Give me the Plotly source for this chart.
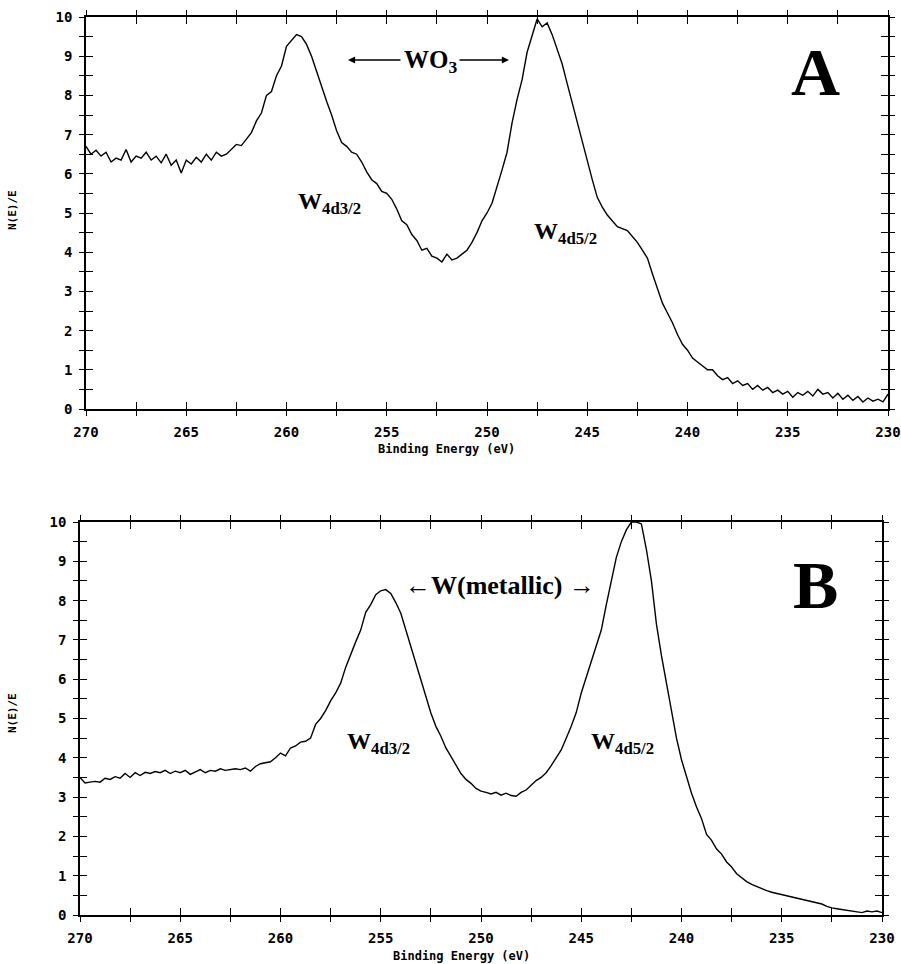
import plotly.graph_objects as go

# ---------------- data ----------------
ENERGY = [270 - 0.25 * i for i in range(161)]  # binding energy channels (eV), 270 -> 230

# Panel A : WO3
WO3_COUNTS = [
    6.70, 6.50, 6.60, 6.45, 6.55, 6.30, 6.40, 6.35, 6.62, 6.30, 6.45, 6.40, 6.55, 6.35, 6.45, 6.28, 6.50,
    6.22, 6.35, 6.02, 6.35, 6.25, 6.42, 6.30, 6.50, 6.35, 6.55, 6.45, 6.50, 6.62, 6.75, 6.72, 6.90,
    7.05, 7.35, 7.55, 8.00, 8.10, 8.50, 8.75, 9.25, 9.40, 9.55, 9.50, 9.30, 9.00, 8.60, 8.20, 7.85,
    7.50, 7.10, 6.80, 6.70, 6.55, 6.50, 6.30, 6.05, 5.85, 5.75, 5.55, 5.50, 5.35, 5.10, 4.80, 4.70,
    4.45, 4.30, 4.05, 4.10, 3.90, 3.85, 3.75, 3.95, 3.80, 3.85, 3.95, 4.05, 4.25, 4.50, 4.80, 5.00,
    5.25, 5.65, 6.10, 6.55, 7.30, 7.90, 8.40, 9.10, 9.55, 9.95, 9.75, 9.85, 9.55, 9.20, 8.80, 8.30,
    7.80, 7.30, 6.80, 6.30, 5.85, 5.40, 5.15, 4.95, 4.80, 4.65, 4.60, 4.55, 4.40, 4.25, 4.05, 3.85,
    3.45, 3.05, 2.70, 2.45, 2.20, 1.90, 1.65, 1.50, 1.30, 1.20, 1.10, 1.00, 1.00, 0.85, 0.75, 0.80,
    0.65, 0.72, 0.60, 0.65, 0.50, 0.60, 0.48, 0.55, 0.42, 0.48, 0.38, 0.45, 0.30, 0.42, 0.35, 0.45,
    0.33, 0.50, 0.38, 0.42, 0.28, 0.40, 0.25, 0.35, 0.22, 0.32, 0.18, 0.28, 0.20, 0.25, 0.18, 0.38,
]

# Panel B : W (metallic)
W_COUNTS = [
    3.50, 3.36, 3.38, 3.40, 3.38, 3.48, 3.45, 3.52, 3.48, 3.60, 3.50, 3.62, 3.55, 3.63, 3.60, 3.65, 3.62,
    3.68, 3.60, 3.66, 3.62, 3.68, 3.58, 3.65, 3.70, 3.62, 3.68, 3.66, 3.72, 3.68, 3.70, 3.72, 3.70,
    3.74, 3.66, 3.78, 3.85, 3.88, 3.90, 4.00, 4.12, 4.05, 4.25, 4.30, 4.40, 4.42, 4.50, 4.85, 5.00,
    5.20, 5.45, 5.65, 5.90, 6.30, 6.65, 6.95, 7.25, 7.70, 7.90, 8.15, 8.25, 8.28, 8.18, 7.95, 7.68,
    7.25, 6.82, 6.40, 5.98, 5.55, 5.14, 4.80, 4.55, 4.25, 4.02, 3.80, 3.60, 3.45, 3.35, 3.22, 3.15,
    3.12, 3.08, 3.12, 3.05, 3.10, 3.04, 3.02, 3.12, 3.18, 3.30, 3.42, 3.50, 3.62, 3.80, 4.00, 4.20,
    4.50, 4.80, 5.15, 5.65, 6.05, 6.45, 6.80, 7.25, 7.90, 8.50, 9.10, 9.50, 9.80, 10.00, 10.00, 9.95,
    9.30, 8.50, 7.40, 6.60, 5.90, 5.20, 4.50, 3.95, 3.50, 3.10, 2.75, 2.45, 2.05, 1.90, 1.68, 1.55,
    1.35, 1.22, 1.05, 0.95, 0.85, 0.78, 0.72, 0.66, 0.62, 0.58, 0.55, 0.52, 0.48, 0.45, 0.42, 0.40,
    0.36, 0.34, 0.30, 0.28, 0.22, 0.18, 0.16, 0.14, 0.12, 0.10, 0.08, 0.06, 0.10, 0.08, 0.10, 0.06,
]

X_TICKS = [270, 265, 260, 255, 250, 245, 240, 235, 230]
Y_TICKS = [0, 1, 2, 3, 4, 5, 6, 7, 8, 9, 10]
X_TITLE = "Binding Energy (eV)"
Y_TITLE = "N(E)/E"

# ---------------- layout helpers ----------------
W, H = 901, 964


def px_x(x):
    return x / W


def px_y(y):
    return 1 - y / H


TICKFONT = dict(family="DejaVu Sans Mono", size=14, color="black", weight="bold")
SERIF = "Liberation Serif"

fig = go.Figure()

panels = [
    dict(xr=(86, 888), yr=(17, 409), data=WO3_COUNTS, main=("", ""), over=("3", "3")),
    dict(xr=(80, 882), yr=(522, 915), data=W_COUNTS, main=("2", "2"), over=("4", "4")),
]

layout = dict(
    template="none",
    width=W, height=H,
    margin=dict(l=0, r=0, t=0, b=0, pad=0, autoexpand=False),
    paper_bgcolor="white", plot_bgcolor="white",
    showlegend=False,
)

for p in panels:
    xs, ys = p["main"]
    xo, yo = p["over"]
    xdom = [px_x(p["xr"][0]), px_x(p["xr"][1])]
    ydom = [px_y(p["yr"][1]), px_y(p["yr"][0])]

    fig.add_trace(go.Scatter(
        x=ENERGY, y=p["data"], mode="lines",
        line=dict(color="black", width=1.4),
        xaxis="x" + xs, yaxis="y" + ys, hoverinfo="skip",
    ))
    # invisible copy that carries the overlay (outside-tick) axes
    fig.add_trace(go.Scatter(
        x=ENERGY, y=p["data"], mode="lines",
        line=dict(color="rgba(0,0,0,0)", width=0),
        xaxis="x" + xo, yaxis="y" + yo, hoverinfo="skip",
    ))

    common_x = dict(range=[270, 230], tickvals=X_TICKS, showgrid=False, zeroline=False, automargin=False)
    common_y = dict(range=[0, 10], tickvals=Y_TICKS, showgrid=False, zeroline=False, automargin=False)

    layout["xaxis" + xs] = dict(
        **common_x, domain=xdom, anchor="y" + ys,
        showline=True, linecolor="black", linewidth=1.6, mirror="ticks",
        ticks="inside", ticklen=7, tickwidth=1.3, tickcolor="black",
        minor=dict(dtick=2.5, tick0=230, ticks="inside", ticklen=7, tickwidth=1.3, tickcolor="black"),
        tickfont=TICKFONT, ticklabelstandoff=9,
    )
    layout["yaxis" + ys] = dict(
        **common_y, domain=ydom, anchor="x" + xs,
        showline=True, linecolor="black", linewidth=1.6, mirror="ticks",
        ticks="inside", ticklen=7, tickwidth=1.3, tickcolor="black",
        minor=dict(dtick=0.5, tick0=0, ticks="inside", ticklen=7, tickwidth=1.3, tickcolor="black"),
        tickfont=TICKFONT, ticklabelstandoff=9,
    )
    layout["xaxis" + xo] = dict(
        **common_x, overlaying="x" + xs, anchor="y" + yo,
        showline=False, mirror="ticks", showticklabels=False,
        ticks="outside", ticklen=6, tickwidth=1.3, tickcolor="black",
        minor=dict(dtick=2.5, tick0=230, ticks="outside", ticklen=6, tickwidth=1.3, tickcolor="black"),
    )
    layout["yaxis" + yo] = dict(
        **common_y, overlaying="y" + ys, anchor="x" + xo,
        showline=False, mirror="ticks", showticklabels=False,
        ticks="outside", ticklen=6, tickwidth=1.3, tickcolor="black",
        minor=dict(dtick=0.5, tick0=0, ticks="outside", ticklen=6, tickwidth=1.3, tickcolor="black"),
    )

fig.update_layout(**layout)


def label(x, y, text, size, family=SERIF, bold=True, angle=0, color="black"):
    fig.add_annotation(
        x=px_x(x), y=px_y(y), xref="paper", yref="paper",
        text=text, showarrow=False, xanchor="center", yanchor="middle",
        textangle=angle,
        font=dict(family=family, size=size, color=color, weight="bold" if bold else "normal"),
    )


def arrow(x_head, x_tail, y):
    fig.add_annotation(
        x=px_x(x_head), y=px_y(y), xref="paper", yref="paper",
        ax=x_tail - x_head, ay=0, axref="pixel", ayref="pixel",
        text="", showarrow=True, arrowhead=2, arrowsize=1.1, arrowwidth=1.3, arrowcolor="black",
    )


# axis titles
label(446, 449, X_TITLE, 12, family="DejaVu Sans Mono")
label(461, 956, X_TITLE, 12, family="DejaVu Sans Mono")
label(12, 210, Y_TITLE, 11, family="DejaVu Sans Mono", angle=-90)
label(12, 713, Y_TITLE, 11, family="DejaVu Sans Mono", angle=-90)

# panel letters
label(815, 72, "A", 68)
label(815, 585, "B", 68)

# panel A annotations
label(430, 62, "WO<sub>3</sub>", 25)
arrow(348, 402, 60)
arrow(509, 458, 60)
label(329, 203, "W<sub>4d3/2</sub>", 24)
label(565, 233, "W<sub>4d5/2</sub>", 24)

# panel B annotations
label(500, 585, "\u2190W(metallic) \u2192", 26)
label(378, 743, "W<sub>4d3/2</sub>", 24)
label(622, 743, "W<sub>4d5/2</sub>", 24)

fig.write_html("out.html")
